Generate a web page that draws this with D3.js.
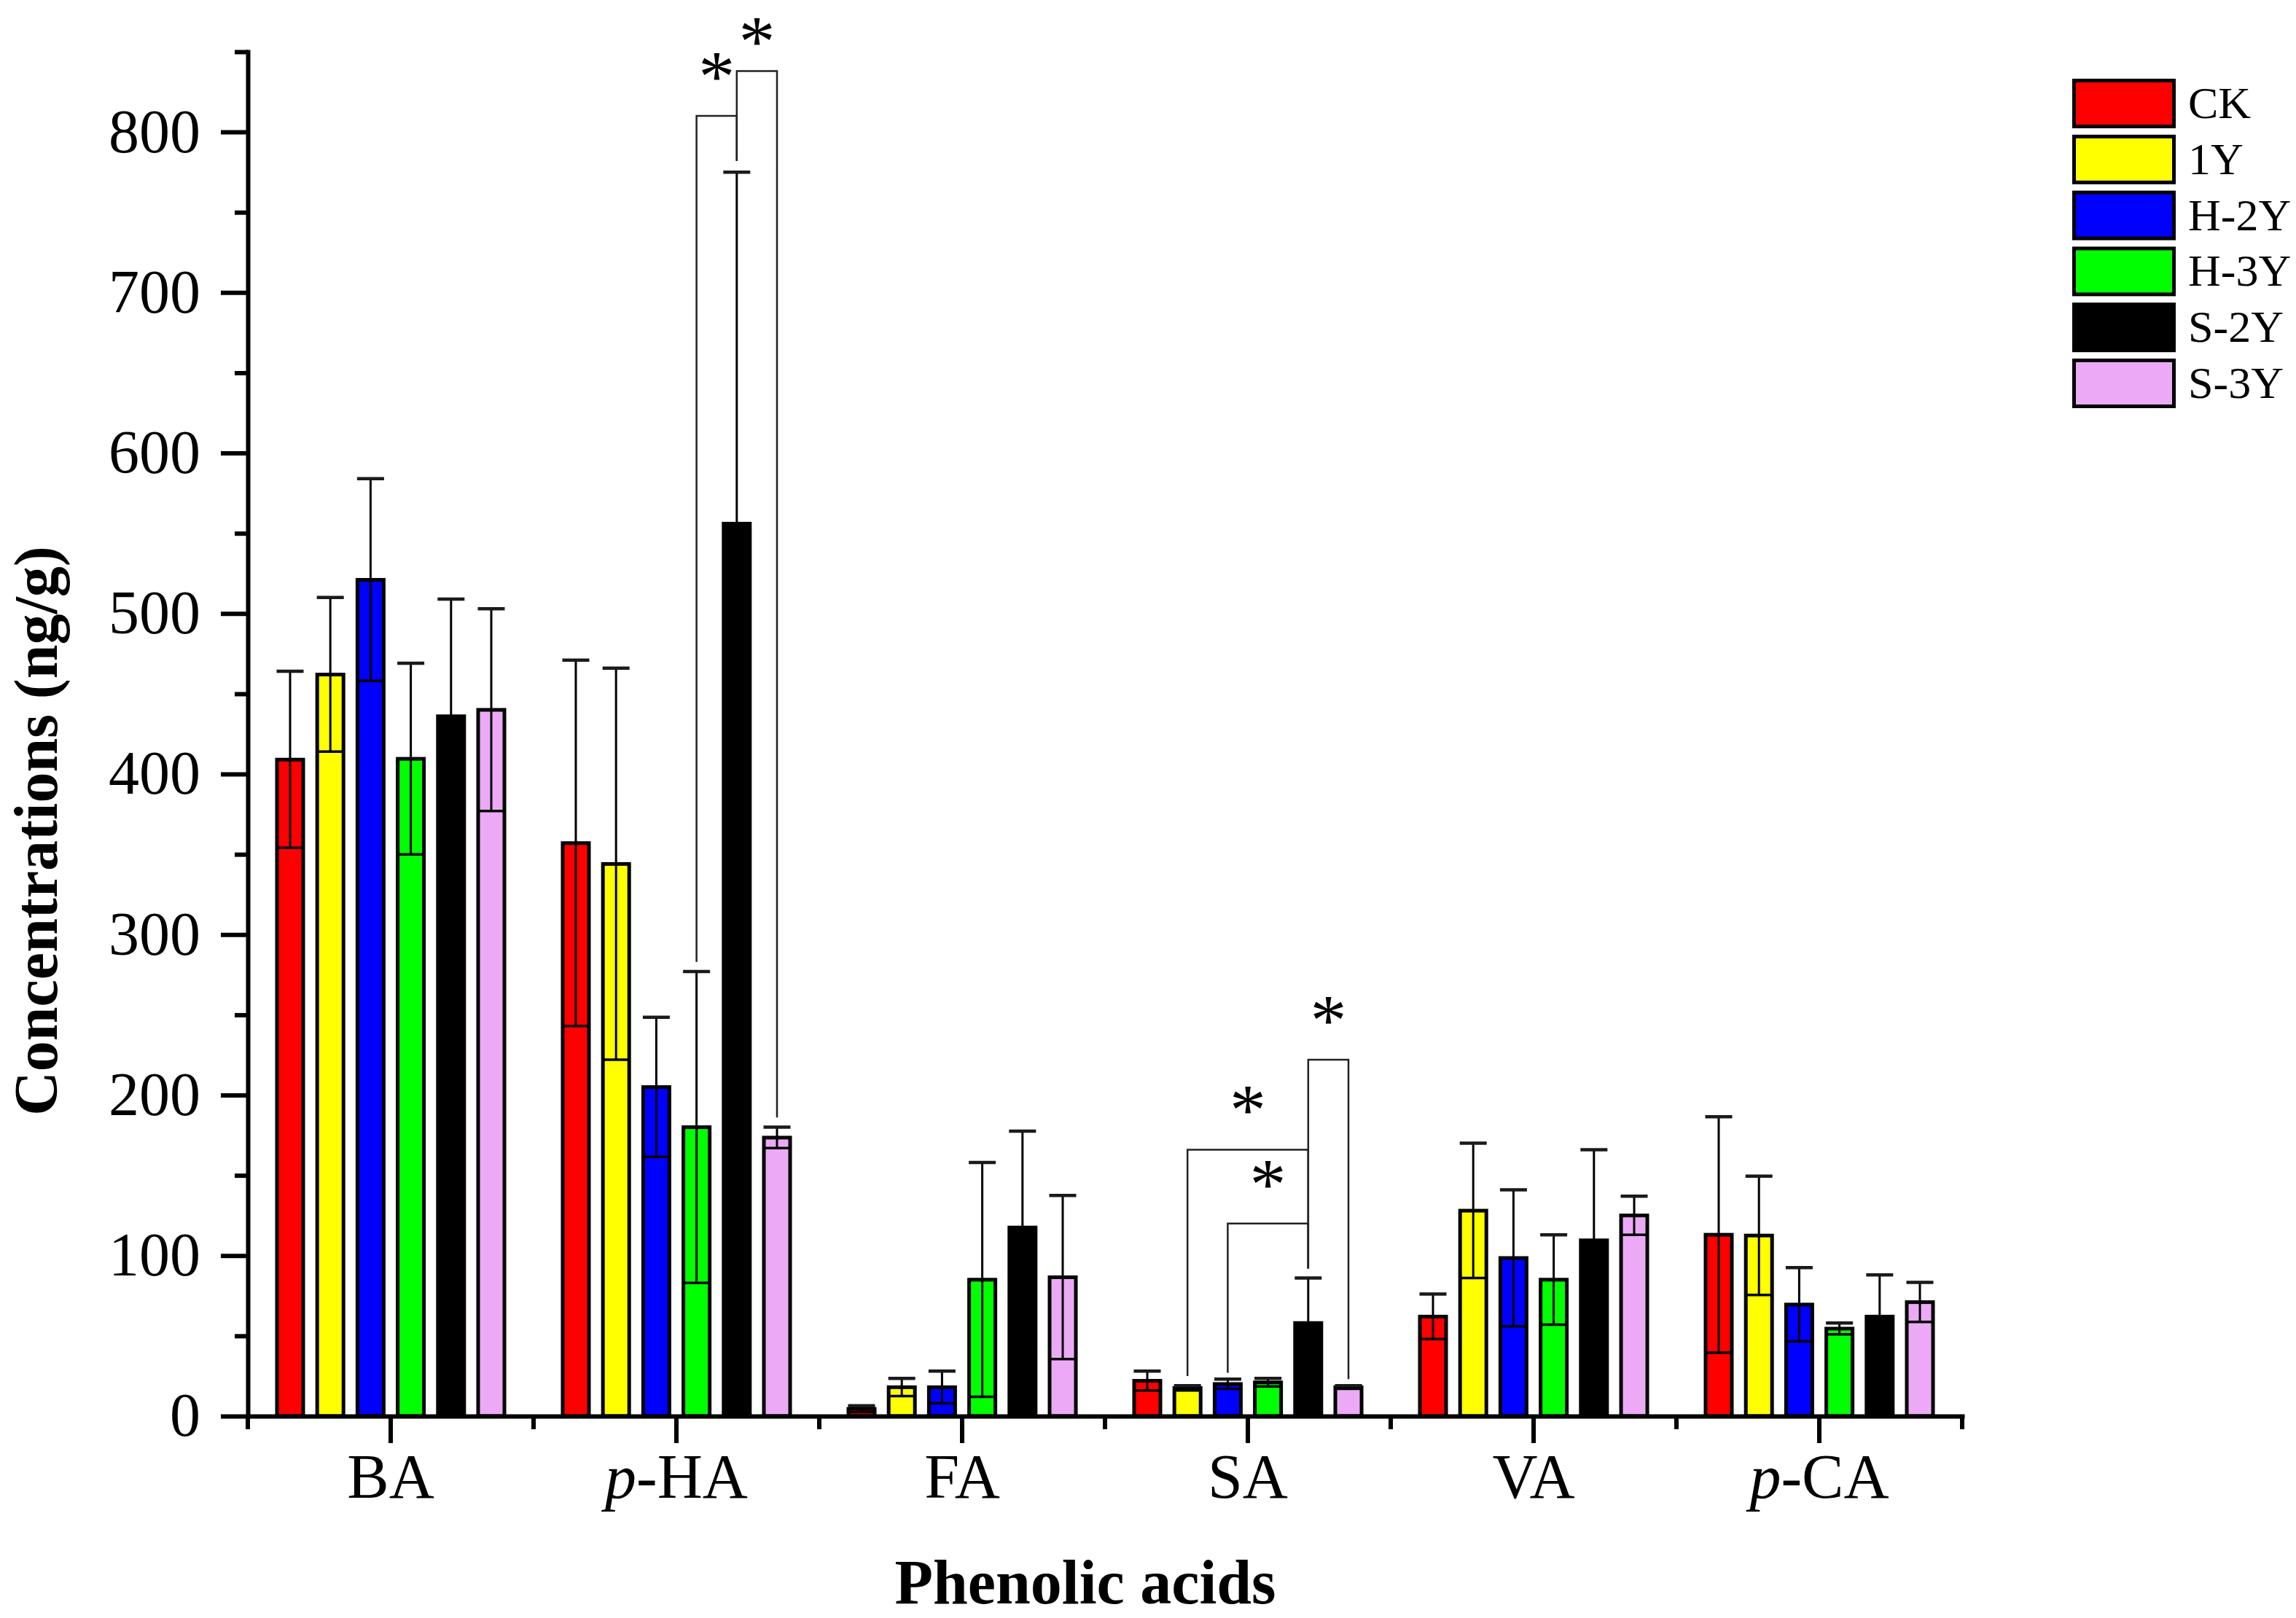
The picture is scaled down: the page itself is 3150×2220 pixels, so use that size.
<!DOCTYPE html>
<html>
<head>
<meta charset="utf-8">
<script src="https://cdn.jsdelivr.net/npm/d3@7"></script>
<style>
  body { margin: 0; background: #fff; }
  svg { display: block; }
  text { font-family: "Liberation Serif", "Times New Roman", serif; fill: #000; }
</style>
</head>
<body>
<svg width="3150" height="2220"></svg>
<script>
const categories = ["BA", "p-HA", "FA", "SA", "VA", "p-CA"];
const groups = ["CK", "1Y", "H-2Y", "H-3Y", "S-2Y", "S-3Y"];
const colours = ["#ff0000", "#ffff00", "#0000ff", "#00ff00", "#000000", "#ecaaf6"];

// mean concentrations (ng/g), one array per treatment, in category order
const meanCK  = [409, 357, 4.5, 22, 62, 113];
const mean1Y  = [462, 344, 18, 17.5, 128, 112.5];
const meanH2Y = [521, 205, 18, 20, 98.5, 69.5];
const meanH3Y = [409.5, 180, 85, 21, 85, 54.5];
const meanS2Y = [436, 556, 117.5, 58, 109.5, 62];
const meanS3Y = [440, 173.5, 86.5, 18, 125, 71];

// standard deviations
const sdCK  = [55, 114, 2, 6, 14, 73.5];
const sd1Y  = [48, 122, 5.5, 1.5, 42, 37];
const sdH2Y = [63, 43.5, 10, 3, 42.5, 23];
const sdH3Y = [59.5, 97, 73, 2.5, 28, 3.5];
const sdS2Y = [73, 219, 60, 28, 56.5, 26];
const sdS3Y = [63, 6.5, 51, 1, 12, 12.3];

const yMajor = [0, 100, 200, 300, 400, 500, 600, 700, 800];
const yMinor = [50, 150, 250, 350, 450, 550, 650, 750, 850];

// significance brackets: leg ends and top given in data units
const brackets = [
  { cat: "p-HA", from: "H-3Y", to: "S-2Y", left: 283, top: 810, right: 782 },
  { cat: "p-HA", from: "S-2Y", to: "S-3Y", left: 782, top: 838, right: 186 },
  { cat: "SA", from: "1Y", to: "S-2Y", left: 25, top: 166, right: 92 },
  { cat: "SA", from: "H-2Y", to: "S-2Y", left: 27, top: 120, right: 92 },
  { cat: "SA", from: "S-2Y", to: "S-3Y", left: 92, top: 222, right: 23 }
];

const means = [meanCK, mean1Y, meanH2Y, meanH3Y, meanS2Y, meanS3Y];
const sds = [sdCK, sd1Y, sdH2Y, sdH3Y, sdS2Y, sdS3Y];

const rows = [];
groups.forEach((g, i) => {
  categories.forEach((c, j) => {
    rows.push({ cat: c, group: g, mean: means[i][j], sd: sds[i][j], colour: colours[i] });
  });
});

const svg = d3.select("svg");
svg.append("rect").attr("width", 3150).attr("height", 2220).attr("fill", "#fff");

const x0 = d3.scaleBand().domain(categories).range([340, 2692]).paddingInner(0).paddingOuter(0);
const x1 = d3.scaleBand().domain(groups).range([0, x0.bandwidth()])
  .paddingInner(0.257).paddingOuter(0.679);
const y = d3.scaleLinear().domain([0, 850]).range([1943, 71]);

const barStroke = 5;
const cx = (c, g) => x0(c) + x1(g) + x1.bandwidth() / 2;

//bars
svg.append("g").attr("id", "bars")
  .selectAll("rect")
  .data(rows)
  .join("rect")
  .attr("x", d => x0(d.cat) + x1(d.group) + barStroke / 2)
  .attr("width", x1.bandwidth() - barStroke)
  .attr("y", d => y(d.mean))
  .attr("height", d => y(0) - y(d.mean))
  .attr("fill", d => d.colour)
  .attr("stroke", "#000")
  .attr("stroke-width", barStroke);

//error bars
const capW = x1.bandwidth() - 4;
const err = svg.append("g").attr("id", "errors")
  .selectAll("g")
  .data(rows)
  .join("g");

err.append("line")
  .attr("x1", d => cx(d.cat, d.group))
  .attr("x2", d => cx(d.cat, d.group))
  .attr("y1", d => y(d.mean - d.sd))
  .attr("y2", d => y(d.mean + d.sd))
  .attr("stroke", "#000")
  .attr("stroke-width", 3);

err.append("line")
  .attr("x1", d => cx(d.cat, d.group) - capW / 2)
  .attr("x2", d => cx(d.cat, d.group) + capW / 2)
  .attr("y1", d => y(d.mean + d.sd))
  .attr("y2", d => y(d.mean + d.sd))
  .attr("stroke", "#1a1a1a")
  .attr("stroke-width", 4.5);

err.append("line")
  .attr("x1", d => cx(d.cat, d.group) - capW / 2)
  .attr("x2", d => cx(d.cat, d.group) + capW / 2)
  .attr("y1", d => y(d.mean - d.sd))
  .attr("y2", d => y(d.mean - d.sd))
  .attr("stroke", "#000")
  .attr("stroke-width", 3.5);

//significance brackets
const sig = svg.append("g").attr("id", "significance");
sig.selectAll("path")
  .data(brackets)
  .join("path")
  .attr("d", d => {
    const xa = cx(d.cat, d.from), xb = cx(d.cat, d.to);
    return "M" + xa + "," + y(d.left) + "V" + y(d.top) + "H" + xb + "V" + y(d.right);
  })
  .attr("fill", "none")
  .attr("stroke", "#222")
  .attr("stroke-width", 2.5);

const starSize = 100;
sig.selectAll("text")
  .data(brackets)
  .join("text")
  .attr("x", d => (cx(d.cat, d.from) + cx(d.cat, d.to)) / 2)
  .attr("y", d => Math.max(y(d.top) - 21, starSize * 0.9))
  .attr("text-anchor", "middle")
  .attr("font-size", starSize)
  .text("*");

//y axis
const yAxis = svg.append("g")
  .attr("transform", "translate(340,0)")
  .call(d3.axisLeft(y).tickValues(yMajor).tickSize(37).tickSizeOuter(0).tickPadding(28)
    .tickFormat(d3.format("d")));
yAxis.select(".domain").attr("stroke-width", 6).attr("stroke-linecap", "square");
yAxis.selectAll(".tick line").attr("stroke-width", 6);
yAxis.selectAll(".tick text").attr("font-size", 84).attr("font-family", "Liberation Serif, serif");

const yAxisMinor = svg.append("g")
  .attr("transform", "translate(340,0)")
  .call(d3.axisLeft(y).tickValues(yMinor).tickSize(18).tickSizeOuter(0).tickFormat(""));
yAxisMinor.select(".domain").remove();
yAxisMinor.selectAll(".tick line").attr("stroke-width", 6);

//x axis
const xAxis = svg.append("g")
  .attr("transform", "translate(0," + y(0) + ")")
  .call(d3.axisBottom(x0).tickSize(37).tickSizeOuter(0).tickFormat(""));
xAxis.select(".domain").attr("stroke-width", 6).attr("stroke-linecap", "square");
xAxis.selectAll(".tick line").attr("stroke-width", 6);

const bounds = categories.map(c => x0(c)).concat([x0.range()[1]]);
xAxis.append("g").selectAll("line")
  .data(bounds)
  .join("line")
  .attr("x1", d => d).attr("x2", d => d)
  .attr("y1", 0).attr("y2", 18)
  .attr("stroke", "#000")
  .attr("stroke-width", 6);

const catLabels = svg.append("g").selectAll("text")
  .data(categories)
  .join("text")
  .attr("x", d => x0(d) + x0.bandwidth() / 2)
  .attr("y", 2055)
  .attr("text-anchor", "middle")
  .attr("font-size", 86);
catLabels.each(function (d) {
  const t = d3.select(this);
  if (d.startsWith("p-")) {
    t.append("tspan").attr("font-style", "italic").text("p");
    t.append("tspan").text(d.slice(1));
  } else {
    t.text(d);
  }
});

//axis titles
svg.append("text")
  .attr("transform", "translate(78,1140) rotate(-90)")
  .attr("text-anchor", "middle")
  .attr("font-size", 84)
  .attr("font-weight", "bold")
  .text("Concentrations (ng/g)");

svg.append("text")
  .attr("x", 1489)
  .attr("y", 2200)
  .attr("text-anchor", "middle")
  .attr("font-size", 86)
  .attr("font-weight", "bold")
  .text("Phenolic acids");

//legend
const legend = svg.append("g").attr("transform", "translate(2843,108)");
const leg = legend.selectAll("g")
  .data(groups)
  .join("g")
  .attr("transform", (d, i) => "translate(0," + i * 76.8 + ")");
leg.append("rect")
  .attr("x", 2.5).attr("y", 2.5)
  .attr("width", 137).attr("height", 63)
  .attr("fill", (d, i) => colours[i])
  .attr("stroke", "#000")
  .attr("stroke-width", 5);
leg.append("text")
  .attr("x", 159)
  .attr("y", 54)
  .attr("font-size", 62)
  .text(d => d);
</script>
</body>
</html>
